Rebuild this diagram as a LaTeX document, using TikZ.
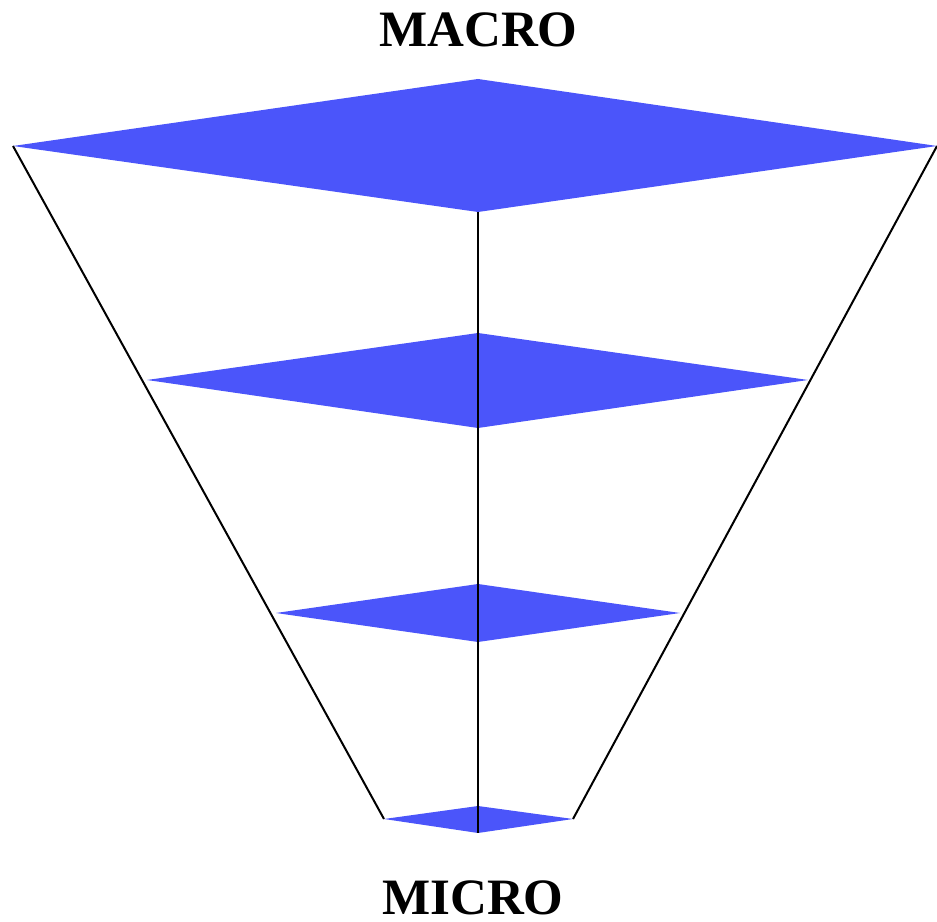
\documentclass[tikz,border=0pt]{standalone}
\usepackage{fontspec}
\setmainfont{Liberation Serif}
\definecolor{layerblue}{RGB}{75,85,250}
\begin{document}
\begin{tikzpicture}[x=1pt,y=1pt,
  layer/.style={fill=layerblue,draw=none},
  edge/.style={draw=black,line width=2pt},
  lbl/.style={font=\bfseries\fontsize{51}{51}\selectfont,inner sep=0pt,anchor=base}]
\useasboundingbox (0,0) rectangle (937,921);
% layer 1
\coordinate (L1) at (13,775);
\coordinate (T1) at (478,842);
\coordinate (R1) at (937,775);
\coordinate (B1) at (478,709);
% layer 2
\coordinate (L2) at (147,541);
\coordinate (T2) at (478,588);
\coordinate (R2) at (808,541);
\coordinate (B2) at (478,493);
% layer 3
\coordinate (L3) at (276,308);
\coordinate (T3) at (478,337);
\coordinate (R3) at (680,308);
\coordinate (B3) at (478,279);
% layer 4
\coordinate (L4) at (384,102);
\coordinate (T4) at (478,115);
\coordinate (R4) at (573,102);
\coordinate (B4) at (478,88);
\foreach \i in {1,2,3,4}{
  \fill[layer] (L\i) -- (T\i) -- (R\i) -- (B\i) -- cycle;
}
\draw[edge] (L1) -- (L4);
\draw[edge] (R1) -- (R4);
\draw[edge] (B1) -- (B4);
\node[lbl] (macro) at (478.5,874) {MACRO};
\node[lbl] (micro) at (473,6.5) {MICRO};
\end{tikzpicture}
\end{document}
